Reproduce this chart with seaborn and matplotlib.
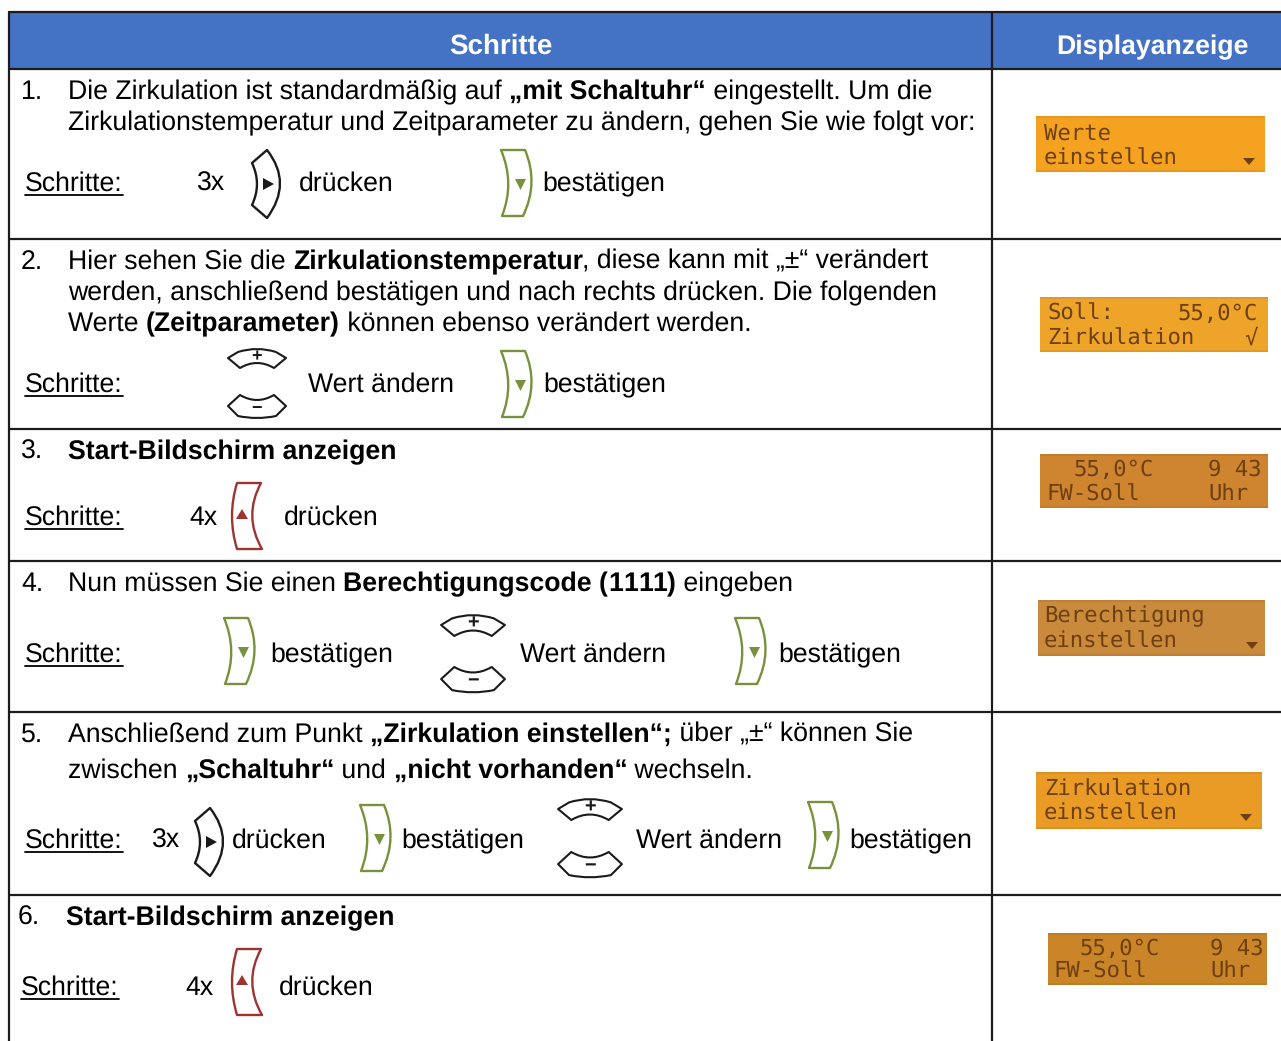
import matplotlib
matplotlib.use('Agg')
import matplotlib.pyplot as plt
from matplotlib.patches import PathPatch, Polygon, Rectangle
from matplotlib.path import Path
import pandas as pd
import seaborn as sns

headers = ['Schritte', 'Displayanzeige']
header_sizes = [20.0, 19.2]
row_edges = [12, 69, 239, 429, 561, 712, 895]
step_word = 'Schritte:'

row1 = [(21, 99, [('1.', 0)]),
        (68, 99, [('Die Zirkulation ist standardmäßig auf ', 0), ('„mit Schaltuhr“', 1), (' eingestellt. Um die', 0)]),
        (68, 130, [('Zirkulationstemperatur und Zeitparameter zu ändern, gehen Sie wie folgt vor:', 0)])]
row2 = [(21, 269, [('2.', 0)]),
        (68, 269, [('Hier sehen Sie die ', 0), ('Zirkulationstemperatur', 1), (', diese kann mit „±“ verändert', 0)]),
        (68, 300, [('werden, anschließend bestätigen und nach rechts drücken. Die folgenden', 0)]),
        (68, 331, [('Werte ', 0), ('(Zeitparameter)', 1), (' können ebenso verändert werden.', 0)])]
row3 = [(21, 459, [('3.', 0)]), (68, 459, [('Start-Bildschirm anzeigen', 1)])]
row4 = [(21, 591, [('4.', 0)]),
        (68, 591, [('Nun müssen Sie einen ', 0), ('Berechtigungscode (', 1), ('1', 1), ('1', 1), ('1', 1), ('1', 1), (')', 1), (' eingeben', 0)])]
row5 = [(21, 742, [('5.', 0)]),
        (68, 742, [('Anschließend zum Punkt ', 0), ('„Zirkulation einstellen“;', 1), (' über „±“ können Sie', 0)]),
        (68, 778, [('zwischen ', 0), ('„Schaltuhr“', 1), (' und ', 0), ('„nicht vorhanden“', 1), (' wechseln.', 0)])]
row6 = [(18, 925, [('6.', 0)]), (66, 925, [('Start-Bildschirm anzeigen', 1)])]

step_labels = [(25, 191, '3x', 197), (25, 392, None, None), (25, 525, '4x', 189),
               (25, 662, None, None), (25, 848, '3x', 152), (21, 995, '4x', 185)]
actions = [(299, 191, 'drücken'), (542, 191, 'bestätigen'),
           (308, 392, 'Wert ändern'), (543, 392, 'bestätigen'),
           (284, 525, 'drücken'),
           (270, 662, 'bestätigen'), (520, 662, 'Wert ändern'), (778, 662, 'bestätigen'),
           (232, 848, 'drücken'), (401, 848, 'bestätigen'), (636, 848, 'Wert ändern'), (849, 848, 'bestätigen'),
           (279, 995, 'drücken')]

right_keys = [(266, 184), (209, 842)]
ok_keys = [(517, 183), (517, 384), (240, 651), (751, 651), (376, 838), (824, 835)]
back_keys = [(246, 516), (246, 982)]
plus_minus = [(257, 358, 405, 1.0), (473, 625, 678, 1.1), (590, 809, 863, 1.1)]

lcd_boxes = [(1036, 116, 1265, 172, '#f4a21f'), (1040, 297, 1268, 352, '#eea429'),
             (1040, 454, 1268, 508, '#cf8430'), (1038, 600, 1265, 656, '#c98a3c'),
             (1036, 772, 1262, 829, '#e99b26'), (1048, 933, 1267, 985, '#c98528')]
lcd_text = [(1044, 140, 'Werte'), (1044, 165, 'einstellen'),
            (1047, 320, 'Soll:'), (1177, 320, '55,0°C'), (1047, 345, 'Zirkulation'), (1244, 345, '√'),
            (1073, 476, '55,0°C'), (1208, 476, '9 43'), (1046, 501, 'FW-Soll'), (1208, 501, 'Uhr'),
            (1044, 622, 'Berechtigung'), (1044, 648, 'einstellen'),
            (1044, 796, 'Zirkulation'), (1044, 820, 'einstellen'),
            (1079, 955, '55,0°C'), (1210, 955, '9 43'), (1053, 978, 'FW-Soll'), (1210, 978, 'Uhr')]
lcd_arrows = [(1249, 158), (1252, 642), (1246, 814)]

LINE = '#1c1c1c'
BLUE = '#4472c4'
GREEN = '#76923c'
RED = '#9c3432'
LCD_INK = '#6e4010'
BODY = 19.2

sns.set_theme(style='white')
plt.rcParams['font.family'] = ['Liberation Sans', 'DejaVu Sans']
plt.rcParams['text.hinting'] = 'no_hinting'

fig = plt.figure(figsize=(12.81, 10.41), dpi=100)
ax = fig.add_axes([0, 0, 1, 1])
renderer = fig.canvas.get_renderer()

ax.add_patch(Rectangle((9, 12), 1272, 57, facecolor=BLUE, edgecolor='none'))

rules = []
for i, y in enumerate(row_edges):
    rules.append(pd.DataFrame({'x': [9, 1281], 'y': [y, y], 'rule': f'row{i}'}))
rules.append(pd.DataFrame({'x': [9, 9], 'y': [12, 1041], 'rule': 'left'}))
rules.append(pd.DataFrame({'x': [992, 992], 'y': [12, 1041], 'rule': 'col'}))
sns.lineplot(data=pd.concat(rules), x='x', y='y', units='rule', estimator=None, sort=False,
             color=LINE, linewidth=1.6, legend=False, ax=ax)


def width_of(s, weight):
    # trailing spaces are not counted on their own, so measure against a dot
    a = ax.text(0, 0, s + '.', fontsize=BODY, fontweight=weight)
    b = ax.text(0, 0, '.', fontsize=BODY, fontweight=weight)
    w = a.get_window_extent(renderer).width - b.get_window_extent(renderer).width
    a.remove()
    b.remove()
    return w


def put_runs(x, y, runs):
    for s, bold in runs:
        weight = 'bold' if bold else 'normal'
        ax.text(x, y, s, fontsize=BODY, fontweight=weight, color='black', va='baseline', ha='left')
        x += width_of(s, weight)


def curved(points, color, lw=1.7):
    # points: corner, (control, corner), ... quadratic edges where a control is given
    verts = [points[0]]
    codes = [Path.MOVETO]
    for p in points[1:]:
        if len(p) == 4:
            verts += [(p[0], p[1]), (p[2], p[3])]
            codes += [Path.CURVE3, Path.CURVE3]
        else:
            verts.append(p)
            codes.append(Path.LINETO)
    verts.append(points[0])
    codes.append(Path.CLOSEPOLY)
    ax.add_patch(PathPatch(Path(verts, codes), facecolor='white', edgecolor=color,
                           linewidth=lw, joinstyle='round'))


def right_key(cx, cy):
    p = [(cx + 1, cy - 34), (cx + 27, cy - 1, cx + 1, cy + 34), (cx - 14, cy + 21),
         (cx - 4, cy, cx - 14, cy - 21)]
    curved(p, '#1a1a1a')
    ax.add_patch(Polygon([(cx - 3, cy - 6), (cx + 8, cy), (cx - 3, cy + 6)], facecolor='#1a1a1a', edgecolor='none'))


def ok_key(cx, cy):
    p = [(cx - 16, cy - 33), (cx + 8, cy - 33), (cx + 22, cy, cx + 6, cy + 33), (cx - 15, cy + 33),
         (cx - 2, cy, cx - 16, cy - 33)]
    curved(p, GREEN)
    ax.add_patch(Polygon([(cx - 2, cy - 4), (cx + 9, cy - 4), (cx + 3.5, cy + 7)], facecolor=GREEN, edgecolor='none'))


def back_key(cx, cy):
    p = [(cx + 15, cy - 33), (cx - 9, cy - 33), (cx - 19, cy, cx - 9, cy + 33), (cx + 16, cy + 33),
         (cx - 3, cy, cx + 15, cy - 33)]
    curved(p, RED)
    ax.add_patch(Polygon([(cx - 10, cy + 3), (cx + 2, cy + 3), (cx - 4, cy - 7)], facecolor=RED, edgecolor='none'))


def plus_key(cx, cy, s):
    p = [(cx - 29 * s, cy), (cx - 19 * s, cy - 6 * s), (cx, cy - 12 * s, cx + 19 * s, cy - 6 * s),
         (cx + 29 * s, cy), (cx + 17 * s, cy + 10 * s), (cx, cy, cx - 17 * s, cy + 10 * s)]
    curved(p, '#1a1a1a', 1.5)
    ax.text(cx, cy - 1 * s, '+', fontsize=13 * s, fontweight='bold', ha='center', va='center', color='#1a1a1a')


def minus_key(cx, cy, s):
    p = [(cx - 29 * s, cy + 1 * s), (cx - 17 * s, cy - 10 * s), (cx, cy, cx + 17 * s, cy - 10 * s),
         (cx + 29 * s, cy + 1 * s), (cx + 19 * s, cy + 11 * s), (cx, cy + 15 * s, cx - 19 * s, cy + 11 * s)]
    curved(p, '#1a1a1a', 1.5)
    ax.text(cx, cy + 3 * s, '−', fontsize=13 * s, fontweight='bold', ha='center', va='center', color='#1a1a1a')


for x_c, s, size in zip([501, 1152], headers, header_sizes):
    ax.text(x_c, 54, s, fontsize=size, fontweight='bold', color='white', ha='center', va='baseline')

for row in [row1, row2, row3, row4, row5, row6]:
    for x, y, runs in row:
        put_runs(x, y, runs)

for x, y, count, count_x in step_labels:
    t = ax.text(x, y, step_word, fontsize=BODY, color='black', va='baseline')
    ax.plot([x, x + t.get_window_extent(renderer).width], [y + 4, y + 4], color='black', lw=1.3)
    if count:
        ax.text(count_x, y, count, fontsize=BODY, color='black', va='baseline')

for x, y, s in actions:
    ax.text(x, y, s, fontsize=BODY, color='black', va='baseline')

for cx, cy in right_keys:
    right_key(cx, cy)
for cx, cy in ok_keys:
    ok_key(cx, cy)
for cx, cy in back_keys:
    back_key(cx, cy)
for cx, y_plus, y_minus, s in plus_minus:
    plus_key(cx, y_plus, s)
    minus_key(cx, y_minus, s)

for x0, y0, x1, y1, c in lcd_boxes:
    ax.add_patch(Rectangle((x0, y0), x1 - x0, y1 - y0, facecolor=c, edgecolor='none'))
    # darker rim of the photographed display
    ax.add_patch(Rectangle((x0, y0), x1 - x0, 2, facecolor='#5a3a10', alpha=0.1, edgecolor='none'))
    ax.add_patch(Rectangle((x0, y1 - 2), x1 - x0, 2, facecolor='#5a3a10', alpha=0.1, edgecolor='none'))
for x, y, s in lcd_text:
    ax.text(x, y, s, fontsize=16, family='DejaVu Sans Mono', color=LCD_INK, va='baseline')
for x, y in lcd_arrows:
    ax.add_patch(Polygon([(x - 6, y), (x + 6, y), (x, y + 7)], facecolor=LCD_INK, edgecolor='none'))

ax.set_xlim(0, 1281)
ax.set_ylim(1041, 0)
ax.axis('off')

fig.savefig('out.png', dpi=100, facecolor='white')
